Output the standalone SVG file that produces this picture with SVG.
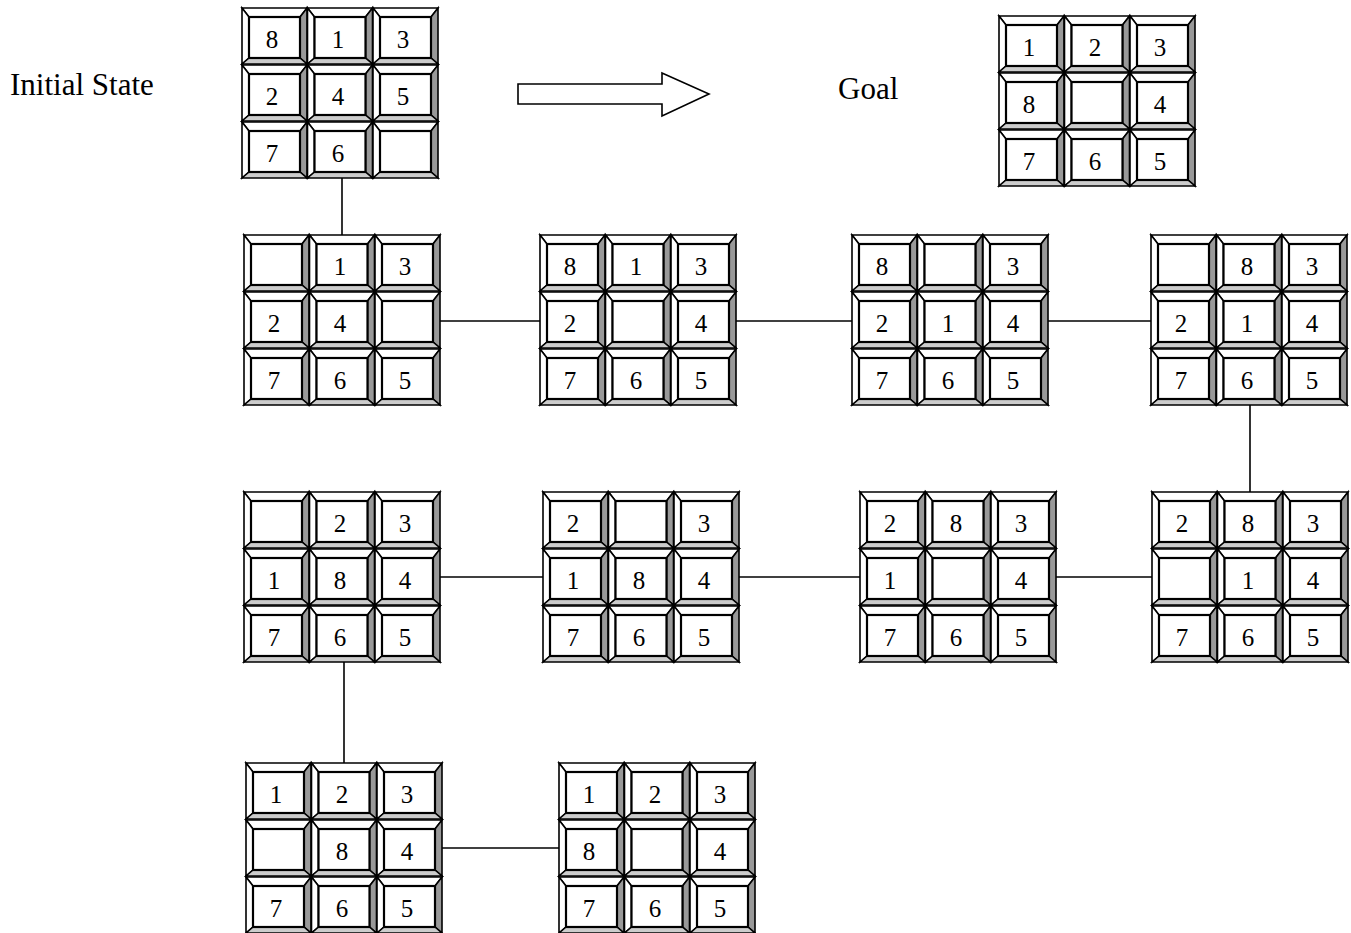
<svg xmlns="http://www.w3.org/2000/svg" xmlns:xlink="http://www.w3.org/1999/xlink" width="1351" height="933" viewBox="0 0 1351 933">
<style>
.lbl{font-family:"Liberation Serif","Times New Roman",serif;font-size:31px;fill:#000}
.n{font-family:"Liberation Serif","Times New Roman",serif;font-size:25px;fill:#000;text-anchor:middle}
.ln{stroke:#000;stroke-width:1.6;fill:none}
.b{stroke:#000;stroke-width:1.6;stroke-linejoin:miter}
.i{stroke:#000;stroke-width:2.2}
</style>
<defs>
<g id="tile">
<polygon class="b" points="0,0 65,0 58,9 7,9" fill="#fff"/>
<polygon class="b" points="0,0 7,9 7,50 0,56" fill="#fff"/>
<polygon class="b" points="65,0 65,56 58,50 58,9" fill="#999"/>
<polygon class="b" points="0,56 7,50 58,50 65,56" fill="#ccc"/>
<rect class="i" x="7" y="9" width="51" height="41" fill="#fff"/>
</g>
<g id="board">
<use xlink:href="#tile" x="0" y="0"/><use xlink:href="#tile" x="65.5" y="0"/><use xlink:href="#tile" x="131" y="0"/>
<use xlink:href="#tile" x="0" y="57"/><use xlink:href="#tile" x="65.5" y="57"/><use xlink:href="#tile" x="131" y="57"/>
<use xlink:href="#tile" x="0" y="114"/><use xlink:href="#tile" x="65.5" y="114"/><use xlink:href="#tile" x="131" y="114"/>
</g>
</defs>
<rect width="1351" height="933" fill="#fff"/>

<text class="lbl" x="10" y="95">Initial State</text>
<text class="lbl" x="838" y="99">Goal</text>
<polygon points="518,84 662,84 662,73 709,94 662,116 662,104 518,104" fill="#fff" stroke="#000" stroke-width="1.6"/>

<g id="connectors">
<line class="ln" x1="342" y1="178" x2="342" y2="235"/>
<line class="ln" x1="440" y1="321" x2="540" y2="321"/>
<line class="ln" x1="736" y1="321" x2="852" y2="321"/>
<line class="ln" x1="1048" y1="321" x2="1158" y2="321"/>
<line class="ln" x1="1250" y1="405" x2="1250" y2="492"/>
<line class="ln" x1="1056" y1="577" x2="1152" y2="577"/>
<line class="ln" x1="739" y1="577" x2="860" y2="577"/>
<line class="ln" x1="440" y1="577" x2="543" y2="577"/>
<line class="ln" x1="344" y1="662" x2="344" y2="763"/>
<line class="ln" x1="442" y1="848" x2="559" y2="848"/>
</g>

<g id="initial" transform="translate(242,8)">
<use xlink:href="#board"/>
<text class="n" x="30" y="40">8</text><text class="n" x="96" y="40">1</text><text class="n" x="161" y="40">3</text>
<text class="n" x="30" y="97">2</text><text class="n" x="96" y="97">4</text><text class="n" x="161" y="97">5</text>
<text class="n" x="30" y="154">7</text><text class="n" x="96" y="154">6</text>
</g>

<g id="goal" transform="translate(999,16)">
<use xlink:href="#board"/>
<text class="n" x="30" y="40">1</text><text class="n" x="96" y="40">2</text><text class="n" x="161" y="40">3</text>
<text class="n" x="30" y="97">8</text><text class="n" x="161" y="97">4</text>
<text class="n" x="30" y="154">7</text><text class="n" x="96" y="154">6</text><text class="n" x="161" y="154">5</text>
</g>

<g id="s1" transform="translate(244,235)">
<use xlink:href="#board"/>
<text class="n" x="96" y="40">1</text><text class="n" x="161" y="40">3</text>
<text class="n" x="30" y="97">2</text><text class="n" x="96" y="97">4</text>
<text class="n" x="30" y="154">7</text><text class="n" x="96" y="154">6</text><text class="n" x="161" y="154">5</text>
</g>

<g id="s2" transform="translate(540,235)">
<use xlink:href="#board"/>
<text class="n" x="30" y="40">8</text><text class="n" x="96" y="40">1</text><text class="n" x="161" y="40">3</text>
<text class="n" x="30" y="97">2</text><text class="n" x="161" y="97">4</text>
<text class="n" x="30" y="154">7</text><text class="n" x="96" y="154">6</text><text class="n" x="161" y="154">5</text>
</g>

<g id="s3" transform="translate(852,235)">
<use xlink:href="#board"/>
<text class="n" x="30" y="40">8</text><text class="n" x="161" y="40">3</text>
<text class="n" x="30" y="97">2</text><text class="n" x="96" y="97">1</text><text class="n" x="161" y="97">4</text>
<text class="n" x="30" y="154">7</text><text class="n" x="96" y="154">6</text><text class="n" x="161" y="154">5</text>
</g>

<g id="s4" transform="translate(1151,235)">
<use xlink:href="#board"/>
<text class="n" x="96" y="40">8</text><text class="n" x="161" y="40">3</text>
<text class="n" x="30" y="97">2</text><text class="n" x="96" y="97">1</text><text class="n" x="161" y="97">4</text>
<text class="n" x="30" y="154">7</text><text class="n" x="96" y="154">6</text><text class="n" x="161" y="154">5</text>
</g>

<g id="s5" transform="translate(1152,492)">
<use xlink:href="#board"/>
<text class="n" x="30" y="40">2</text><text class="n" x="96" y="40">8</text><text class="n" x="161" y="40">3</text>
<text class="n" x="96" y="97">1</text><text class="n" x="161" y="97">4</text>
<text class="n" x="30" y="154">7</text><text class="n" x="96" y="154">6</text><text class="n" x="161" y="154">5</text>
</g>

<g id="s6" transform="translate(860,492)">
<use xlink:href="#board"/>
<text class="n" x="30" y="40">2</text><text class="n" x="96" y="40">8</text><text class="n" x="161" y="40">3</text>
<text class="n" x="30" y="97">1</text><text class="n" x="161" y="97">4</text>
<text class="n" x="30" y="154">7</text><text class="n" x="96" y="154">6</text><text class="n" x="161" y="154">5</text>
</g>

<g id="s7" transform="translate(543,492)">
<use xlink:href="#board"/>
<text class="n" x="30" y="40">2</text><text class="n" x="161" y="40">3</text>
<text class="n" x="30" y="97">1</text><text class="n" x="96" y="97">8</text><text class="n" x="161" y="97">4</text>
<text class="n" x="30" y="154">7</text><text class="n" x="96" y="154">6</text><text class="n" x="161" y="154">5</text>
</g>

<g id="s8" transform="translate(244,492)">
<use xlink:href="#board"/>
<text class="n" x="96" y="40">2</text><text class="n" x="161" y="40">3</text>
<text class="n" x="30" y="97">1</text><text class="n" x="96" y="97">8</text><text class="n" x="161" y="97">4</text>
<text class="n" x="30" y="154">7</text><text class="n" x="96" y="154">6</text><text class="n" x="161" y="154">5</text>
</g>

<g id="s9" transform="translate(246,763)">
<use xlink:href="#board"/>
<text class="n" x="30" y="40">1</text><text class="n" x="96" y="40">2</text><text class="n" x="161" y="40">3</text>
<text class="n" x="96" y="97">8</text><text class="n" x="161" y="97">4</text>
<text class="n" x="30" y="154">7</text><text class="n" x="96" y="154">6</text><text class="n" x="161" y="154">5</text>
</g>

<g id="s10" transform="translate(559,763)">
<use xlink:href="#board"/>
<text class="n" x="30" y="40">1</text><text class="n" x="96" y="40">2</text><text class="n" x="161" y="40">3</text>
<text class="n" x="30" y="97">8</text><text class="n" x="161" y="97">4</text>
<text class="n" x="30" y="154">7</text><text class="n" x="96" y="154">6</text><text class="n" x="161" y="154">5</text>
</g>
</svg>
